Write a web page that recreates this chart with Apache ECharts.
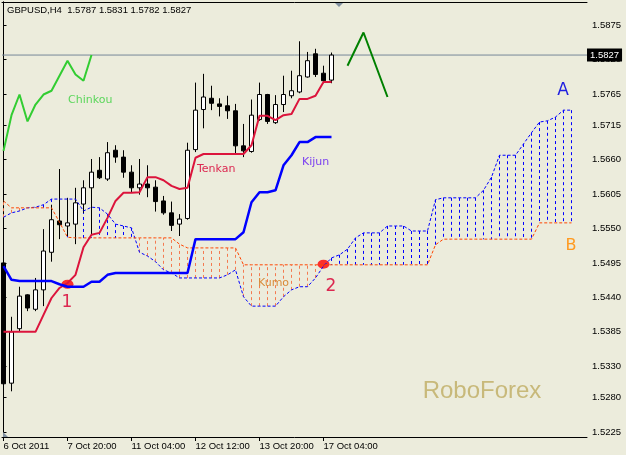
<!DOCTYPE html>
<html><head><meta charset="utf-8">
<script src="https://cdn.jsdelivr.net/npm/echarts@6/dist/echarts.min.js"></script>
<style>html,body{margin:0;padding:0;background:#ececdc}#c{width:626px;height:455px}</style>
</head><body><div id="c"></div>
<script>
// ---- data ----
const tickLabels = ['6 Oct 2011','7 Oct 20:00','11 Oct 04:00','12 Oct 12:00','13 Oct 20:00','17 Oct 04:00'];
const tickBars = [0, 8, 16, 24, 32, 40];
const priceTicks = [1.5225,1.5280,1.5330,1.5385,1.5440,1.5495,1.5550,1.5605,1.5660,1.5715,1.5765,1.5820,1.5875];

const opens  = [1.5495,1.5303,1.5390,1.5444,1.5421,1.5452,1.5512,1.5562,1.5554,1.5557,1.5589,1.5615,1.5643,1.5629,1.5675,1.5664,1.5640,1.5615,1.5621,1.5616,1.5594,1.5575,1.5557,1.5566,1.5676,1.5740,1.5758,1.5749,1.5746,1.5738,1.5682,1.5673,1.5724,1.5764,1.5719,1.5748,1.5762,1.5768,1.5792,1.5829,1.5798,1.5787];
const closes = [1.5302,1.5385,1.5442,1.5423,1.5452,1.5514,1.5564,1.5556,1.5559,1.5591,1.5615,1.5640,1.5631,1.5671,1.5664,1.5640,1.5615,1.5621,1.5615,1.5593,1.5575,1.5555,1.5565,1.5675,1.5739,1.5760,1.5750,1.5745,1.5738,1.5682,1.5674,1.5731,1.5764,1.5721,1.5748,1.5764,1.5770,1.5794,1.5818,1.5796,1.5786,1.5827];
const lows   = [1.5268,1.5290,1.5386,1.5418,1.5418,1.5426,1.5497,1.5533,1.5538,1.5525,1.5575,1.5540,1.5629,1.5626,1.5655,1.5631,1.5608,1.5604,1.5600,1.5577,1.5572,1.5546,1.5538,1.5564,1.5672,1.5710,1.5739,1.5729,1.5725,1.5669,1.5664,1.5671,1.5722,1.5717,1.5717,1.5736,1.5758,1.5766,1.5791,1.5792,1.5782,1.5782];
const highs  = [1.5500,1.5409,1.5457,1.5445,1.5471,1.5549,1.5588,1.5645,1.5599,1.5615,1.5627,1.5661,1.5664,1.5688,1.5683,1.5675,1.5651,1.5661,1.5651,1.5627,1.5602,1.5593,1.5573,1.5687,1.5783,1.5797,1.5778,1.5758,1.5762,1.5749,1.5717,1.5756,1.5783,1.5765,1.5763,1.5794,1.5802,1.5849,1.5832,1.5837,1.5810,1.5831];

const tenkan = [1.5385,1.5385,1.5385,1.5385,1.5385,1.5412,1.5439,1.5455,1.5463,1.5476,1.5520,1.5540,1.5543,1.5567,1.5594,1.5607,1.5607,1.5608,1.5632,1.5632,1.5627,1.5618,1.5613,1.5615,1.5663,1.5669,1.5669,1.5669,1.5669,1.5669,1.5669,1.5683,1.5730,1.5730,1.5723,1.5731,1.5733,1.5757,1.5757,1.5762,1.5784,1.5784];
const kijun  = [1.5490,1.5468,1.5466,1.5466,1.5466,1.5466,1.5466,1.5461,1.5457,1.5457,1.5457,1.5465,1.5465,1.5476,1.5479,1.5479,1.5479,1.5479,1.5479,1.5479,1.5479,1.5479,1.5479,1.5479,1.5533,1.5533,1.5533,1.5533,1.5533,1.5533,1.5544,1.5592,1.5608,1.5608,1.5611,1.5651,1.5667,1.5688,1.5688,1.5696,1.5696,1.5696];
const senkouA = [1.5568,1.5575,1.5578,1.5583,1.5584,1.5588,1.5597,1.5597,1.5597,1.5597,1.5578,1.5584,1.5583,1.5573,1.5557,1.5554,1.5551,1.5512,1.5506,1.5497,1.5484,1.5479,1.5471,1.5471,1.5471,1.5471,1.5471,1.5471,1.5476,1.5484,1.5441,1.5426,1.5426,1.5426,1.5426,1.5441,1.5452,1.5457,1.5457,1.5471,1.5490,1.5503,1.5508,1.5517,1.5535,1.5543,1.5543,1.5543,1.5554,1.5554,1.5554,1.5546,1.5546,1.5546,1.5596,1.5599,1.5599,1.5599,1.5599,1.5599,1.5611,1.5632,1.5667,1.5667,1.5667,1.5685,1.5703,1.5720,1.5722,1.5728,1.5739,1.5739];
const senkouB = [1.5594,1.5583,1.5583,1.5583,1.5583,1.5583,1.5583,1.5560,1.5536,1.5535,1.5535,1.5535,1.5535,1.5535,1.5535,1.5535,1.5535,1.5535,1.5535,1.5535,1.5535,1.5535,1.5525,1.5519,1.5519,1.5519,1.5519,1.5519,1.5519,1.5519,1.5492,1.5492,1.5492,1.5492,1.5492,1.5492,1.5492,1.5492,1.5492,1.5492,1.5492,1.5492,1.5492,1.5492,1.5492,1.5492,1.5492,1.5492,1.5492,1.5492,1.5492,1.5492,1.5492,1.5492,1.5524,1.5533,1.5533,1.5533,1.5533,1.5533,1.5533,1.5533,1.5533,1.5533,1.5533,1.5533,1.5533,1.5559,1.5559,1.5559,1.5559,1.5559];
const chinkouShift = 30;
const forecastBars = [43, 45, 48];
const forecastPrices = [1.5810, 1.5863, 1.5760];
const signalBars = [8, 40];
const signalPrices = [1.5461, 1.5493];
const bid = 1.5827;

// ---- build ----
const X_MIN = -0.1875, X_MAX = 72.9375, Y_MIN = 1.521701, Y_MAX = 1.591173;
const candleData = opens.map((o, i) => [i, o, closes[i], lows[i], highs[i]]);
const toXY = arr => arr.map((v, i) => [i, v]);
const chinkou = closes.slice(chinkouShift).map((c, i) => [i, c]);
const cloud = senkouA.map((a, i) => [i, a, senkouB[i]]);

const FONT = '"Liberation Sans", Arial, sans-serif';
const chart = echarts.init(document.getElementById('c'));
chart.setOption({
  animation: false,
  backgroundColor: '#ececdc',
  grid: { left: 2, right: 39, top: 2, bottom: 18, containLabel: false },
  xAxis: [{
    type: 'value', min: X_MIN, max: X_MAX, position: 'bottom',
    splitLine: { show: false },
    axisLine: { show: true, lineStyle: { color: '#000', width: 1 } },
    axisTick: { show: true, customValues: tickBars, length: 4, inside: false, lineStyle: { color: '#000' } },
    axisLabel: { customValues: tickBars, formatter: v => tickLabels[tickBars.indexOf(v)], align: 'left',
      margin: 4, color: '#000', fontFamily: FONT, fontSize: 9.5 }
  }, {
    type: 'value', min: X_MIN, max: X_MAX, position: 'top',
    splitLine: { show: false }, axisTick: { show: false }, axisLabel: { show: false },
    axisLine: { show: true, lineStyle: { color: '#000', width: 1 } }
  }],
  yAxis: [{
    type: 'value', position: 'right', min: Y_MIN, max: Y_MAX,
    splitLine: { show: false },
    axisLine: { show: true, lineStyle: { color: '#000', width: 1 } },
    axisTick: { show: true, customValues: priceTicks, length: 3, inside: false, lineStyle: { color: '#000' } },
    axisLabel: { customValues: priceTicks, formatter: v => v.toFixed(4), margin: 5,
      color: '#000', fontFamily: FONT, fontSize: 9.5 }
  }, {
    type: 'value', position: 'left', min: Y_MIN, max: Y_MAX,
    splitLine: { show: false }, axisTick: { show: false }, axisLabel: { show: false },
    axisLine: { show: true, lineStyle: { color: '#000', width: 1 } }
  }],
  series: [
    {
      type: 'custom', name: 'kumo', data: cloud, encode: { x: 0, y: [1, 2] }, clip: true, silent: true,
      renderItem: (params, api) => {
        const i = api.value(0), a = api.value(1), b = api.value(2);
        const p1 = api.coord([i, a]), p2 = api.coord([i, b]);
        return { type: 'line', shape: { x1: p1[0], y1: p1[1], x2: p2[0], y2: p2[1] },
          style: { stroke: a >= b ? '#0000ff' : '#f47a50', lineWidth: 1, lineDash: [3, 3] } };
      }
    },
    { type: 'line', name: 'Senkou A', data: toXY(senkouA), symbol: 'none', silent: true,
      lineStyle: { color: '#0000ff', width: 1, type: [3, 2] } },
    { type: 'line', name: 'Senkou B', data: toXY(senkouB), symbol: 'none', silent: true,
      lineStyle: { color: '#ff4500', width: 1, type: [3, 2] } },
    { type: 'line', name: 'bid', data: [[X_MIN, bid], [X_MAX, bid]], symbol: 'none', silent: true, z: 1,
      lineStyle: { color: '#778899', width: 1 },
      endLabel: { show: true, formatter: () => bid.toFixed(4), distance: 0,
        backgroundColor: '#000', color: '#fff', padding: [2, 3, 1, 3], fontFamily: FONT, fontSize: 9.5 } },
    {
      type: 'candlestick', name: 'GBPUSD', data: candleData, barWidth: 5, silent: true,
      itemStyle: { color: '#ffffff', color0: '#000000', borderColor: '#000000', borderColor0: '#000000', borderWidth: 1 }
    },
    { type: 'line', name: 'Tenkan', data: toXY(tenkan), symbol: 'none', silent: true,
      lineStyle: { color: '#dc143c', width: 2 } },
    { type: 'line', name: 'Kijun', data: toXY(kijun), symbol: 'none', silent: true,
      lineStyle: { color: '#0000ff', width: 2.5 } },
    { type: 'line', name: 'Chinkou', data: chinkou, symbol: 'none', silent: true,
      lineStyle: { color: '#32cd32', width: 2 } },
    { type: 'line', name: 'forecast', data: forecastBars.map((b, i) => [b, forecastPrices[i]]), symbol: 'none', silent: true,
      lineStyle: { color: '#008000', width: 2 } },
    { type: 'scatter', name: 'signals', data: signalBars.map((b, i) => [b, signalPrices[i]]), symbol: 'circle',
      symbolSize: [12, 9], silent: true, itemStyle: { color: '#ff0000' } }
  ],
  graphic: [
    { type: 'text', x: 7, y: 10, z: 100, style: { text: 'GBPUSD,H4  1.5787 1.5831 1.5782 1.5827', font: '9.5px ' + FONT, fill: '#000', align: 'left', verticalAlign: 'middle' } },
    { type: 'text', x: 68, y: 100, z: 100, style: { text: 'Chinkou', font: '11px "DejaVu Sans"', fill: '#5cd65c', align: 'left', verticalAlign: 'middle' } },
    { type: 'text', x: 197, y: 169, z: 100, style: { text: 'Tenkan', font: '11px "DejaVu Sans"', fill: '#dc2850', align: 'left', verticalAlign: 'middle' } },
    { type: 'text', x: 302, y: 162, z: 100, style: { text: 'Kijun', font: '11px "DejaVu Sans"', fill: '#7a3ff0', align: 'left', verticalAlign: 'middle' } },
    { type: 'text', x: 258, y: 283, z: 100, style: { text: 'Kumo', font: '11px "DejaVu Sans"', fill: '#d98b3a', align: 'left', verticalAlign: 'middle' } },
    { type: 'text', x: 67, y: 303, z: 100, style: { text: '1', font: '17px "DejaVu Sans"', fill: '#dc2850', align: 'center', verticalAlign: 'middle' } },
    { type: 'text', x: 331, y: 287, z: 100, style: { text: '2', font: '17px "DejaVu Sans"', fill: '#dc2850', align: 'center', verticalAlign: 'middle' } },
    { type: 'text', x: 563, y: 91, z: 100, style: { text: 'A', font: '17px "DejaVu Sans"', fill: '#2020e0', align: 'center', verticalAlign: 'middle' } },
    { type: 'text', x: 571, y: 246, z: 100, style: { text: 'B', font: '16px "DejaVu Sans"', fill: '#ff9a20', align: 'center', verticalAlign: 'middle' } },
    { type: 'text', x: 482, y: 391, z: 100, style: { text: 'RoboForex', font: '24px ' + FONT, fill: '#c8b97a', align: 'center', verticalAlign: 'middle' } },
    { type: 'polygon', z: 100, shape: { points: [[335, 3], [343, 3], [339, 7]] }, style: { fill: '#8090a0' } },
    { type: 'polygon', z: 100, shape: { points: [[3, 432], [3, 437], [8, 437]] }, style: { fill: '#8090a0' } }
  ]
});
</script>
</body></html>
